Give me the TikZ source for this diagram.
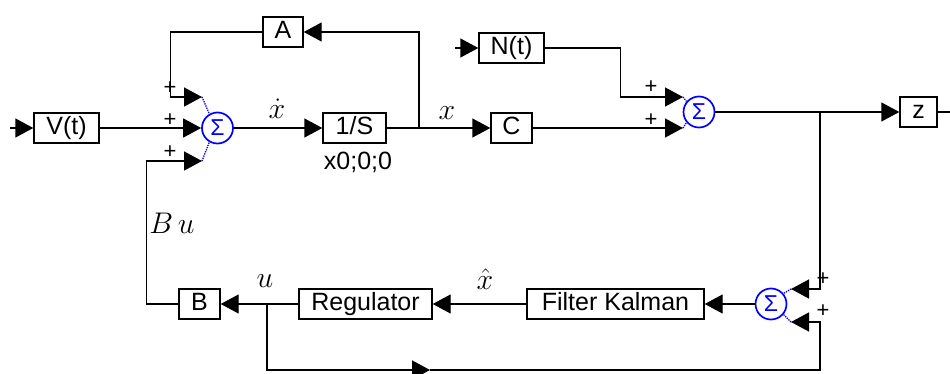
\documentclass[tikz,border=0pt]{standalone}
\usepackage{fontspec}
\setmainfont{Liberation Sans}
\usetikzlibrary{arrows.meta}
\begin{document}
\begin{tikzpicture}[x=1pt,y=-1pt,line width=1.4pt,
  blk/.style={draw, line width=1.4pt, minimum height=30pt, inner sep=0pt,
    font=\fontsize{25}{30}\selectfont, text height=18pt, text depth=5pt},
  sum/.style={circle, draw=blue, line width=1.7pt, minimum size=31pt, inner sep=0pt,
    text=blue, font=\fontsize{23}{23}\selectfont},
  arr/.style={-{Triangle[length=18pt,width=19pt]}},
  conn/.style={blue, densely dotted, line width=1.3pt},
  plus/.style={font=\fontsize{22}{22}\selectfont, inner sep=0pt},
  lbl/.style={font=\fontsize{25}{25}\selectfont, inner sep=0pt},
  mlbl/.style={font=\Huge, scale=1.2, inner sep=0pt}]
\useasboundingbox (0,0) rectangle (950,374);
\fill[white] (0,0) rectangle (950,374);

% blocks
\node[blk, minimum width=65pt] (V) at (66.5,128) {V(t)};
\node[blk, minimum width=40pt] (A) at (283,32) {A};
\node[blk, minimum width=63pt] (S) at (354.5,128) {1/S};
\node[blk, minimum width=41pt] (C) at (511.5,128) {C};
\node[blk, minimum width=65pt] (N) at (511.5,48) {N(t)};
\node[blk, minimum width=37pt] (Z) at (918.5,112) {z};
\node[blk, minimum width=41pt] (B) at (199.5,304) {B};
\node[blk, minimum width=133pt] (R) at (365.5,304) {Regulator};
\node[blk, minimum width=177pt] (F) at (615.5,304) {Filter Kalman};

% summing junctions
\node[sum] (s1) at (217.5,128) {Σ};
\node[sum] (s2) at (699,112) {Σ};
\node[sum] (s3) at (771,304) {Σ};

% helper coordinates
\coordinate (in1) at (10,128);
\coordinate (s1a) at (202,97);
\coordinate (s1b) at (202,161);
\coordinate (j1) at (419,128);
\coordinate (nin) at (455,48);
\coordinate (s2a) at (683,97);
\coordinate (s2b) at (683,128);
\coordinate (j2) at (820,112);
\coordinate (zout) at (950,112);
\coordinate (s3a) at (791,289);
\coordinate (s3b) at (791,322);
\coordinate (j3) at (267,304);
\coordinate (mid) at (430,370);
\coordinate (corner) at (820,370);

% connectors
\draw[arr] (in1) -- (V);
\draw[arr] (V) -- (s1);
\draw[arr] (A.west) -- ++(-92,0) |- (s1a);
\draw[arr] (B.west) -- ++(-32,0) |- (s1b);
\draw[conn] (s1a) -- (s1.120);
\draw[conn] (s1b) -- (s1.240);
\draw[arr] (s1) -- (S);
\draw (S) -- (j1);
\draw[arr] (j1) -- (C);
\draw[arr] (j1) |- (A);
\draw[arr] (nin) -- (N);
\draw[arr] (N.east) -- ++(76,0) |- (s2a);
\draw[arr] (C) -- (s2b);
\draw[conn] (s2a) -- (s2.140);
\draw[conn] (s2b) -- (s2.220);
\draw (s2) -- (j2);
\draw[arr] (j2) -- (Z);
\draw (Z) -- (zout);
\draw[arr] (j2) |- (s3a);
\draw[conn] (s3a) -- (s3.40);
\draw[conn] (s3b) -- (s3.-40);
\draw[arr] (s3) -- (F);
\draw[arr] (F) -- (R);
\draw (R) -- (j3);
\draw[arr] (j3) -- (B);
\draw[arr] (j3) |- (mid);
\draw[arr] (mid) -- (corner) |- (s3b);

% signs
\node[plus] (p1) at (170,88) {+};
\node[plus] (p2) at (170,120) {+};
\node[plus] (p3) at (170,152) {+};
\node[plus] (p4) at (651,87) {+};
\node[plus] (p5) at (651,120) {+};
\node[plus] (p6) at (823,279) {+};
\node[plus] (p7) at (823,311) {+};

% labels
\node[lbl] (ic) at (358,162) {x0;0;0};
\node[mlbl] (lxd) at (277,109) {$\dot{x}$};
\node[mlbl] (lx) at (447,113) {$x$};
\node[mlbl] (lxh) at (485,279) {$\hat{x}$};
\node[mlbl] (lu) at (265,281) {$u$};
\node[mlbl] (lbu) at (172,223) {$B\,u$};
\end{tikzpicture}
\end{document}
